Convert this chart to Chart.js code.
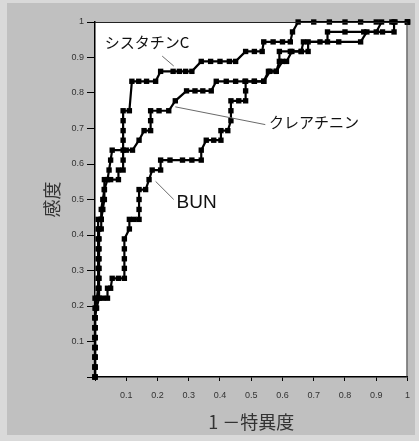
<!DOCTYPE html>
<html lang="ja">
<head>
<meta charset="utf-8">
<title>ROC曲線</title>
<script src="https://cdn.jsdelivr.net/npm/chart.js@4/dist/chart.umd.min.js"></script>
<style>
  html, body { margin: 0; padding: 0; background: #d6d6d6; }
  canvas { display: block; }
</style>
</head>
<body>
<canvas id="roc" width="419" height="441"></canvas>
<script>
// Series names
const seriesNames = ['シスタチンC', 'クレアチニン', 'BUN'];

// シスタチンC : 1 - specificity / sensitivity
const cystatinFpr = [
  0, 0, 0, 0, 0, 0, 0, 0.003, 0.006,
  0.01, 0.01, 0.01, 0.01, 0.01, 0.01, 0.01, 0.01,
  0.02, 0.02, 0.025, 0.03, 0.03, 0.05, 0.075, 0.075,
  0.09, 0.09, 0.09, 0.09, 0.09, 0.09, 0.09, 0.11,
  0.118, 0.14, 0.165, 0.194,
  0.21, 0.25, 0.27, 0.29, 0.31,
  0.34, 0.37, 0.4, 0.43, 0.45,
  0.482, 0.51, 0.535,
  0.54, 0.57, 0.6, 0.625,
  0.632, 0.65, 0.7, 0.75, 0.8, 0.85, 0.9, 0.95, 1
];
const cystatinTpr = [
  0, 0.028, 0.056, 0.083, 0.111, 0.139, 0.167, 0.194, 0.222,
  0.25, 0.278, 0.306, 0.333, 0.361, 0.389, 0.417, 0.444,
  0.444, 0.472, 0.5, 0.528, 0.556, 0.556, 0.556, 0.583,
  0.583, 0.611, 0.639, 0.667, 0.694, 0.722, 0.75, 0.75,
  0.833, 0.833, 0.833, 0.833,
  0.861, 0.861, 0.861, 0.861, 0.861,
  0.889, 0.889, 0.889, 0.889, 0.889,
  0.917, 0.917, 0.917,
  0.944, 0.944, 0.944, 0.944,
  0.972, 1, 1, 1, 1, 1, 1, 1, 1
];

// クレアチニン
const creatinineFpr = [
  0, 0, 0, 0, 0, 0, 0, 0.005,
  0.013, 0.013, 0.013, 0.013, 0.013, 0.013, 0.013, 0.013,
  0.02, 0.02, 0.025, 0.03, 0.03, 0.04, 0.045, 0.05,
  0.055, 0.1, 0.12, 0.141, 0.157, 0.178, 0.178, 0.178,
  0.205, 0.236, 0.257, 0.293, 0.32, 0.345, 0.372,
  0.388, 0.42, 0.45, 0.48, 0.51, 0.54,
  0.555, 0.58, 0.59, 0.59, 0.625, 0.66,
  0.667, 0.72, 0.78, 0.85,
  0.87, 0.9, 0.917, 0.96, 1
];
const creatinineTpr = [
  0, 0.028, 0.056, 0.083, 0.111, 0.139, 0.167, 0.194,
  0.222, 0.25, 0.278, 0.306, 0.333, 0.361, 0.389, 0.417,
  0.417, 0.444, 0.472, 0.5, 0.528, 0.556, 0.583, 0.611,
  0.639, 0.639, 0.639, 0.667, 0.694, 0.694, 0.722, 0.75,
  0.75, 0.75, 0.778, 0.806, 0.806, 0.806, 0.806,
  0.833, 0.833, 0.833, 0.833, 0.833, 0.833,
  0.861, 0.861, 0.889, 0.917, 0.917, 0.917,
  0.944, 0.944, 0.944, 0.944,
  0.972, 0.972, 1, 1, 1
];

// BUN
const bunFpr = [
  0, 0, 0, 0, 0, 0, 0, 0, 0,
  0.025, 0.04, 0.04, 0.05, 0.055, 0.075,
  0.094, 0.094, 0.094, 0.094, 0.094,
  0.11, 0.11, 0.125, 0.141, 0.141, 0.141, 0.141,
  0.162, 0.173, 0.183, 0.21, 0.21, 0.24, 0.28, 0.31, 0.34,
  0.34, 0.356, 0.38, 0.403, 0.403, 0.425,
  0.435, 0.435, 0.435, 0.46, 0.482, 0.482, 0.482,
  0.51, 0.54, 0.56, 0.58, 0.6, 0.613,
  0.63, 0.66, 0.682, 0.682, 0.744, 0.744,
  0.8, 0.86, 0.92, 0.957, 0.957, 1
];
const bunTpr = [
  0, 0.028, 0.056, 0.083, 0.111, 0.139, 0.167, 0.194, 0.222,
  0.222, 0.222, 0.25, 0.25, 0.278, 0.278,
  0.278, 0.306, 0.333, 0.361, 0.389,
  0.417, 0.444, 0.444, 0.444, 0.472, 0.5, 0.528,
  0.528, 0.556, 0.583, 0.583, 0.611, 0.611, 0.611, 0.611, 0.611,
  0.639, 0.667, 0.667, 0.667, 0.694, 0.694,
  0.722, 0.75, 0.778, 0.778, 0.778, 0.806, 0.833,
  0.833, 0.833, 0.861, 0.861, 0.889, 0.889,
  0.917, 0.917, 0.917, 0.944, 0.944, 0.972,
  0.972, 0.972, 0.972, 0.972, 1, 1
];

// Axis tick values
const xTicks = [0.1, 0.2, 0.3, 0.4, 0.5, 0.6, 0.7, 0.8, 0.9, 1];
const yTicks = [0.1, 0.2, 0.3, 0.4, 0.5, 0.6, 0.7, 0.8, 0.9, 1];

const toPoints = (xs, ys) => xs.map((x, i) => ({ x: x, y: ys[i] }));

function curve(label, xs, ys) {
  return {
    label: label,
    data: toPoints(xs, ys),
    showLine: true,
    borderColor: '#000',
    borderWidth: 2.2,
    backgroundColor: '#000',
    pointStyle: 'rect',
    pointRadius: 3.8,
    pointBorderWidth: 0,
    pointHoverRadius: 3.8,
    tension: 0,
    clip: false
  };
}

// Gray panel behind the chart, white plot area, and the top/right frame
const panelPlugin = {
  id: 'panel',
  beforeDraw(chart) {
    const { ctx, width, height, chartArea: a } = chart;
    ctx.save();
    ctx.fillStyle = '#d9d9d9';
    ctx.fillRect(0, 0, width, height);
    ctx.fillStyle = '#c0c0c0';
    ctx.fillRect(7, 3, width - 11, height - 9);
    ctx.fillStyle = '#ffffff';
    ctx.fillRect(a.left, a.top, a.right - a.left, a.bottom - a.top);
    ctx.restore();
  },
  afterDraw(chart) {
    const { ctx, chartArea: a } = chart;
    ctx.save();
    ctx.strokeStyle = '#222';
    ctx.lineWidth = 1;
    ctx.beginPath();
    ctx.moveTo(a.left, a.top + 0.5);
    ctx.lineTo(a.right - 0.5, a.top + 0.5);
    ctx.lineTo(a.right - 0.5, a.bottom);
    ctx.stroke();
    ctx.restore();
  }
};

// Curve names with thin leader lines, placed in data coordinates
const curveLabels = {
  id: 'curveLabels',
  afterDatasetsDraw(chart, args, opts) {
    const { ctx, scales: { x, y } } = chart;
    ctx.save();
    opts.items.forEach(it => {
      ctx.strokeStyle = '#6a6a6a';
      ctx.lineWidth = 1;
      ctx.beginPath();
      ctx.moveTo(x.getPixelForValue(it.from[0]), y.getPixelForValue(it.from[1]));
      ctx.lineTo(x.getPixelForValue(it.to[0]), y.getPixelForValue(it.to[1]));
      ctx.stroke();
      ctx.fillStyle = '#111';
      ctx.font = it.font;
      ctx.textAlign = 'left';
      ctx.textBaseline = 'middle';
      ctx.fillText(it.text, x.getPixelForValue(it.at[0]), y.getPixelForValue(it.at[1]));
    });
    ctx.restore();
  }
};

new Chart(document.getElementById('roc'), {
  type: 'scatter',
  data: {
    datasets: [
      curve(seriesNames[0], cystatinFpr, cystatinTpr),
      curve(seriesNames[1], creatinineFpr, creatinineTpr),
      curve(seriesNames[2], bunFpr, bunTpr)
    ]
  },
  options: {
    responsive: false,
    animation: false,
    events: [],
    layout: { padding: { left: 41, top: 22, right: 6, bottom: 7.7 } },
    plugins: {
      legend: { display: false },
      tooltip: { enabled: false },
      curveLabels: {
        items: [
          { text: seriesNames[0], at: [0.031, 0.943], from: [0.215, 0.904], to: [0.252, 0.876],
            font: '15px "Noto Sans CJK JP"' },
          { text: seriesNames[1], at: [0.557, 0.717], from: [0.257, 0.761], to: [0.545, 0.711],
            font: '15px "Noto Sans CJK JP"' },
          { text: seriesNames[2], at: [0.261, 0.491], from: [0.194, 0.551], to: [0.252, 0.5],
            font: '19px "Liberation Sans"' }
        ]
      }
    },
    scales: {
      x: {
        type: 'linear',
        min: 0,
        max: 1,
        afterFit(scale) { scale.height = 56.3; },
        afterBuildTicks(scale) { scale.ticks = [{ value: 0 }].concat(xTicks.map(v => ({ value: v }))); },
        ticks: {
          autoSkip: false,
          maxRotation: 0,
          padding: 9,
          color: '#333',
          font: { family: 'Liberation Sans', size: 9 },
          callback: v => (v === 0 ? '' : String(v))
        },
        grid: { drawOnChartArea: false, tickLength: 4, color: '#000', tickWidth: 1 },
        border: { color: '#000', width: 1.5 },
        title: {
          display: true,
          text: '1 －特異度',
          color: '#333',
          padding: { top: 0, bottom: 0 },
          font: { family: 'Noto Sans CJK JP', size: 18 }
        }
      },
      y: {
        type: 'linear',
        min: 0,
        max: 1,
        afterFit(scale) { scale.width = 54; },
        afterBuildTicks(scale) { scale.ticks = [{ value: 0 }].concat(yTicks.map(v => ({ value: v }))); },
        ticks: {
          autoSkip: false,
          padding: 3,
          color: '#333',
          font: { family: 'Liberation Sans', size: 9 },
          callback: v => (v === 0 ? '' : String(v))
        },
        grid: { drawOnChartArea: false, tickLength: 8, color: '#000', tickWidth: 1 },
        border: { color: '#000', width: 1.5 },
        title: {
          display: true,
          text: '感度',
          color: '#333',
          padding: { top: 0, bottom: 0 },
          font: { family: 'Noto Sans CJK JP', size: 18 }
        }
      }
    }
  },
  plugins: [panelPlugin, curveLabels]
});
</script>
</body>
</html>
